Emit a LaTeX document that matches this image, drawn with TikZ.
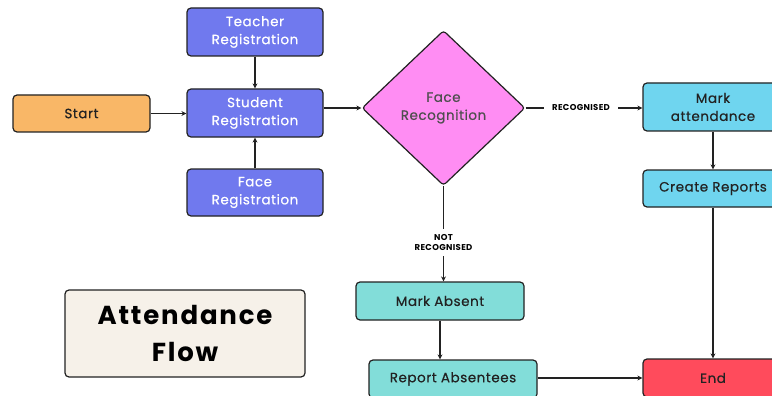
\documentclass[tikz,border=0pt]{standalone}
\usepackage{fontspec}
\setmainfont{Poppins}
\newfontfamily\medfont[FakeBold=0.5,LetterSpace=4]{Poppins}
\newfontfamily\titlefont[LetterSpace=7]{Poppins Bold}
\newfontfamily\lblfont[LetterSpace=4]{Poppins Bold}
\usetikzlibrary{arrows.meta,shapes.geometric}
\definecolor{bluebox}{HTML}{7079EE}
\definecolor{orangebox}{HTML}{F9B767}
\definecolor{pinkbox}{HTML}{FF8DF3}
\definecolor{cyanbox}{HTML}{6FD5EF}
\definecolor{tealbox}{HTML}{82DDD9}
\definecolor{redbox}{HTML}{FF4B5C}
\definecolor{creambox}{HTML}{F6F1E9}
\definecolor{edgecol}{HTML}{222222}
\tikzset{
  x=1pt,y=-1pt,
  base/.style={draw=edgecol,line width=1.2pt,rounded corners=4pt,align=center,inner sep=0pt,font=\medfont\fontsize{13.5}{18}\selectfont},
  bluenode/.style={base,fill=bluebox,text=white,minimum width=136pt,minimum height=48pt},
  arr/.style={draw=edgecol,line width=1.3pt,-{Stealth[length=5pt,width=5pt]}},
  lbl/.style={fill=white,font=\lblfont\fontsize{8.5}{10.5}\selectfont,align=center,inner sep=2pt}
}
\begin{document}
\begin{tikzpicture}
\useasboundingbox (0,0) rectangle (772,396);
\clip (0,0) rectangle (772,396);
\fill[white] (0,0) rectangle (772,396);
\node[bluenode] (tr) at (255,32) {Teacher\\Registration};
\node[bluenode] (sr) at (255,113) {Student\\Registration};
\node[bluenode,minimum height=47pt] (fr) at (255,192.5) {Face\\Registration};
\node[base,fill=orangebox,text=edgecol,minimum width=137pt,minimum height=37pt] (st) at (81.5,113.5) {Start};
\node[base,diamond,rounded corners=3pt,fill=pinkbox,text=edgecol!80,minimum width=163pt,minimum height=155pt,aspect=1.05] (fc) at (443.5,108) {Face\\Recognition};
\node[base,fill=cyanbox,text=edgecol,minimum width=140pt,minimum height=48pt] (ma) at (713,107) {Mark\\attendance};
\node[base,fill=cyanbox,text=edgecol,minimum width=140pt,minimum height=37pt] (cr) at (713,188.5) {Create Reports};
\node[base,fill=redbox,text=edgecol,minimum width=140pt,minimum height=38pt] (en) at (713,378) {End};
\node[base,fill=tealbox,text=edgecol,minimum width=168pt,minimum height=38pt] (ab) at (440,301) {Mark Absent};
\node[base,fill=tealbox,text=edgecol,minimum width=168pt,minimum height=38pt] (ra) at (453,379) {Report Absentees};
\node[base,fill=creambox,text=black,minimum width=240pt,minimum height=87pt,font=\titlefont\fontsize{26}{37}\selectfont] (af) at (185,333.5) {Attendance\\Flow};
\draw[arr] (tr) -- (sr);
\draw[arr] (fr) -- (sr);
\draw[arr] (st) -- (sr.west |- st.east);
\draw[arr] (sr.east |- fc.west) -- (fc.west);
\draw[arr] (fc.east) -- node[lbl,xshift=-3pt,inner xsep=8pt]{RECOGNISED} (ma.west |- fc.east);
\draw[arr] (fc.south) -- node[lbl,yshift=-9pt,inner ysep=5pt]{NOT\\RECOGNISED} (fc.south |- ab.north);
\draw[arr] (ma) -- (cr);
\draw[arr] (cr) -- (en);
\draw[arr] (ab.south) -- (ab.south |- ra.north);
\draw[arr] (ra.east |- en.west) -- (en.west);
\end{tikzpicture}
\end{document}
